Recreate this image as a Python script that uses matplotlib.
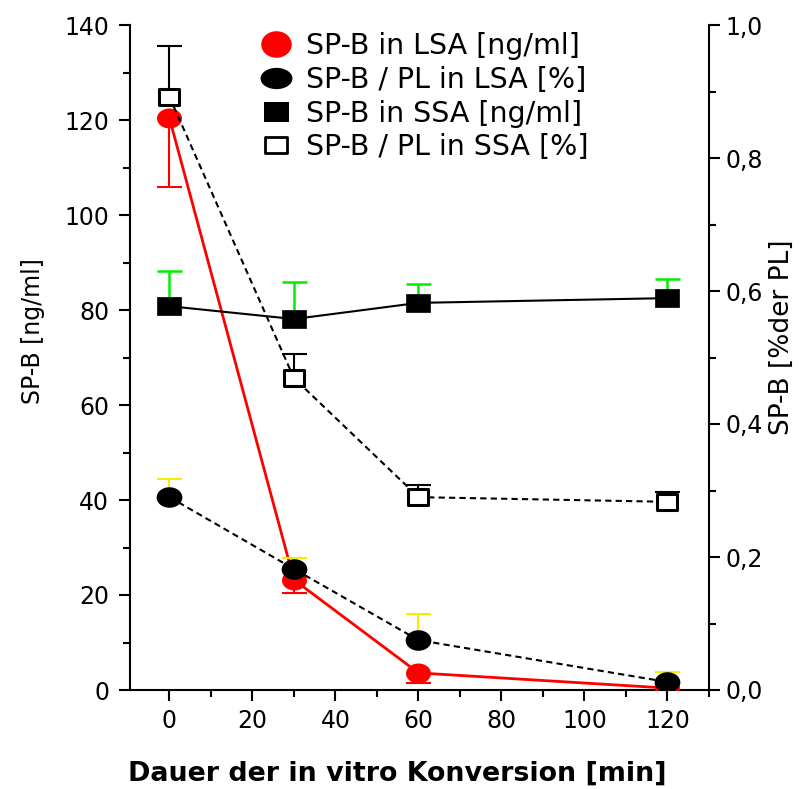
import numpy as np
import matplotlib
matplotlib.use('Agg')
import matplotlib.pyplot as plt
from matplotlib.path import Path
from matplotlib.lines import Line2D
from matplotlib.ticker import MultipleLocator, FuncFormatter

# ---- data ----
time_min = [0, 30, 60, 120]
lsa_ngml = [120.4, 23.2, 3.6, 0.4]
lsa_ngml_err_low = [14.5, 2.8, 2.1, 0.4]
lsa_pct = [0.290, 0.182, 0.075, 0.012]
lsa_pct_err_up = [0.028, 0.017, 0.039, 0.015]
ssa_ngml = [80.8, 78.1, 81.5, 82.5]
ssa_ngml_err_up = [7.4, 7.8, 4.0, 4.0]
ssa_pct = [0.892, 0.469, 0.290, 0.283]
ssa_pct_err_up = [0.077, 0.036, 0.018, 0.015]

legend_labels = ["SP-B in LSA [ng/ml]", "SP-B / PL in LSA [%]",
                 "SP-B in SSA [ng/ml]", "SP-B / PL in SSA [%]"]
x_label = "Dauer der in vitro Konversion [min]"
y_label_left = "SP-B [ng/ml]"
y_label_right = "SP-B [%der PL]"

plt.rcParams['font.family'] = ['DejaVu Sans']


def ellipse(aspect):
    c = Path.unit_circle()
    return Path(c.vertices * np.array([aspect, 1.0]), c.codes)


def rect(aspect):
    v = np.array([[-aspect, -1], [aspect, -1], [aspect, 1], [-aspect, 1], [-aspect, -1]])
    return Path(v, [Path.MOVETO, Path.LINETO, Path.LINETO, Path.LINETO, Path.CLOSEPOLY])


def one_sided_errorbar(a, x, y, low, up, color, lw, keep):
    cont = a.errorbar(x, y, yerr=[low, up], fmt='none', ecolor=color,
                      elinewidth=lw, capsize=9, capthick=lw, zorder=2)
    caps = cont.lines[1]
    # caps[0] = lower caps, caps[1] = upper caps
    if keep == 'up':
        caps[0].set_visible(False)
    else:
        caps[1].set_visible(False)
    return cont


ell = ellipse(1.25)
sq = rect(1.25)

fig = plt.figure(figsize=(8.03, 7.89), dpi=100)
ax = fig.add_axes([130 / 803, 1 - 690 / 789, 579 / 803, 665 / 789])
ax2 = ax.twinx()

zero4 = np.zeros(4)

# left axis series
one_sided_errorbar(ax, time_min, lsa_ngml, lsa_ngml_err_low, zero4, 'red', 1.5, 'low')
ax.plot(time_min, lsa_ngml, color='red', lw=2, marker=ell, ms=18,
        mfc='red', mec='red', mew=0, zorder=3)
one_sided_errorbar(ax, time_min, ssa_ngml, zero4, ssa_ngml_err_up, '#00ee00', 1.8, 'up')
ax.plot(time_min, ssa_ngml, color='black', lw=1.5, marker=sq, ms=17,
        mfc='black', mec='black', mew=0.5, zorder=3)

# right axis series
one_sided_errorbar(ax2, time_min, lsa_pct, zero4, lsa_pct_err_up, '#f0f000', 1.5, 'up')
ax2.plot(time_min, lsa_pct, color='black', lw=1.5, dashes=(3, 2), marker=ell, ms=18.5,
         mfc='black', mec='black', mew=0, zorder=3)
one_sided_errorbar(ax2, time_min, ssa_pct, zero4, ssa_pct_err_up, 'black', 1.5, 'up')
ax2.plot(time_min, ssa_pct, color='black', lw=1.5, dashes=(3, 2), marker=sq, ms=14.5,
         mfc='white', mec='black', mew=2.2, zorder=3)

# axes setup
ax.set_xlim(-9.5, 130)
ax.set_ylim(0, 140)
ax2.set_ylim(0, 1.0)

ax.xaxis.set_major_locator(MultipleLocator(20))
ax.xaxis.set_minor_locator(MultipleLocator(10))
ax.yaxis.set_major_locator(MultipleLocator(20))
ax.yaxis.set_minor_locator(MultipleLocator(10))
ax2.yaxis.set_major_locator(MultipleLocator(0.2))
ax2.yaxis.set_minor_locator(MultipleLocator(0.1))
ax2.yaxis.set_major_formatter(FuncFormatter(lambda v, p: f"{v:.1f}".replace('.', ',')))

for a in (ax, ax2):
    a.spines['top'].set_visible(False)
    for s in a.spines.values():
        s.set_linewidth(1.5)
ax.spines['right'].set_visible(False)
ax2.spines['left'].set_visible(False)
ax2.spines['bottom'].set_visible(False)

ax.tick_params(axis='both', which='major', direction='out', length=8, width=1.5, labelsize=17)
ax.tick_params(axis='both', which='minor', direction='out', length=5, width=1.5)
ax.tick_params(axis='y', which='major', pad=7)
ax.tick_params(axis='x', which='major', pad=6)
ax2.tick_params(axis='y', which='major', direction='out', length=8, width=1.5, labelsize=17, pad=4)
ax2.tick_params(axis='y', which='minor', direction='out', length=5, width=1.5)

ax.set_xlabel(x_label, fontsize=19.4, fontweight='bold')
ax.xaxis.set_label_coords(0.462, -0.106)
ax.set_ylabel(y_label_left, fontsize=17)
ax.yaxis.set_label_coords(-0.147, 0.54)
ax2.set_ylabel(y_label_right, fontsize=19)
ax2.yaxis.set_label_coords(1.103, 0.53)

# legend
handles = [
    Line2D([], [], ls='none', marker=ellipse(1.15), ms=22, mfc='red', mec='red', mew=0),
    Line2D([], [], ls='none', marker=ellipse(1.5), ms=23, mfc='black', mec='black', mew=0),
    Line2D([], [], ls='none', marker=rect(1.25), ms=18, mfc='black', mec='black', mew=0),
    Line2D([], [], ls='none', marker=rect(1.45), ms=16, mfc='white', mec='black', mew=2),
]
leg = ax2.legend(handles, legend_labels, loc='upper left',
                 bbox_to_anchor=((249 - 130) / 579, 1.0), frameon=False,
                 fontsize=20.5, handlelength=1.4, handletextpad=0.35,
                 labelspacing=0.2, borderaxespad=0, borderpad=0.25)

fig.savefig('out.png', dpi=100)
